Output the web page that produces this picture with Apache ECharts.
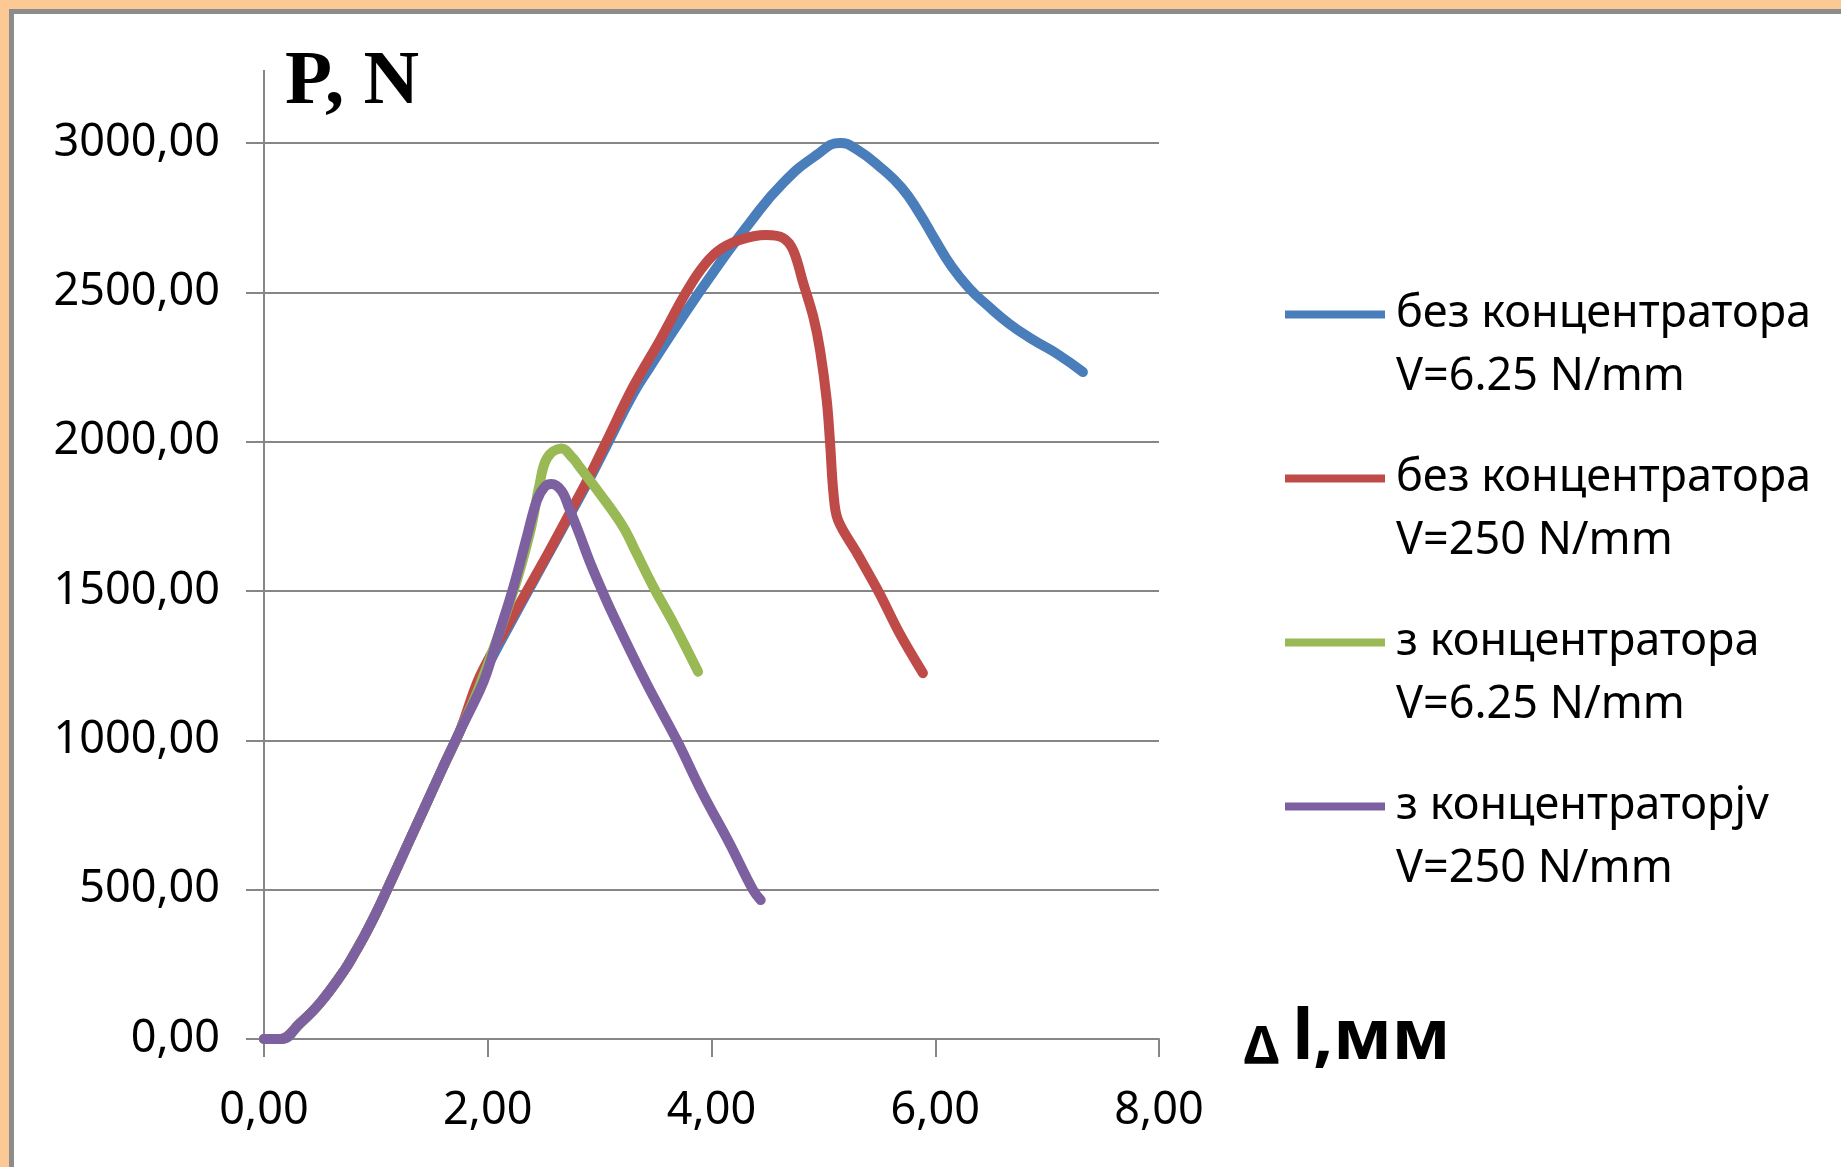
<!DOCTYPE html>
<html>
<head>
<meta charset="utf-8">
<title>P, N</title>
<script src="https://cdn.jsdelivr.net/npm/echarts@6/dist/echarts.min.js"></script>
<style>
  html, body { margin: 0; padding: 0; background: #fff; }
  #wrap { position: relative; width: 1841px; height: 1167px; overflow: hidden; background: #fff; }
  #chart { position: absolute; left: 0; top: 0; width: 1841px; height: 1167px; }
  .band { position: absolute; pointer-events: none; }
</style>
</head>
<body>
<div id="wrap">
  <div id="chart"></div>
  <div class="band" style="left:0;top:0;width:1841px;height:9px;background:#fcc995"></div>
  <div class="band" style="left:0;top:0;width:9px;height:1167px;background:#fcc995"></div>
  <div class="band" style="left:9px;top:9px;width:1832px;height:5px;background:#8c8c8c"></div>
  <div class="band" style="left:9px;top:9px;width:5px;height:1158px;background:#8c8c8c"></div>
</div>
<script>
// legend names, one per curve
var names = [
  'без концентратора\nV=6.25 N/mm',
  'без концентратора\nV=250 N/mm',
  'з концентратора\nV=6.25 N/mm',
  'з концентраторjv\nV=250 N/mm'
]
var colors = ['#4a7ebb', '#be4b48', '#98b954', '#7d60a0']
var smoothness = [0.5, 0.35, 0.4, 0.4]

var xTicks = [0, 2, 4, 6, 8]
var yTicks = [0, 500, 1000, 1500, 2000, 2500, 3000]

// [Δl, mm ; P, N]
var bez625 = [
  [0, 0], [0.15, 0], [0.32, 52], [0.50, 120], [0.72, 231], [0.81, 287], [0.90, 347],
  [1.00, 420], [1.10, 500], [1.28, 648], [1.42, 762], [1.60, 910], [1.75, 1030],
  [1.93, 1195], [2.23, 1410], [2.53, 1615], [2.71, 1738], [2.91, 1875], [3.06, 1985],
  [3.30, 2160], [3.45, 2250], [3.74, 2417], [4.05, 2585], [4.34, 2732], [4.64, 2866],
  [4.94, 2960], [5.15, 3000], [5.30, 2978], [5.53, 2912], [5.70, 2850], [5.85, 2770],
  [6.00, 2675], [6.14, 2590], [6.30, 2515], [6.47, 2455], [6.66, 2395], [6.87, 2342],
  [7.09, 2294], [7.32, 2233]
]
var bez250 = [
  [0, 0], [0.15, 0], [0.32, 52], [0.50, 120], [0.72, 231], [0.81, 287], [0.90, 347],
  [1.00, 420], [1.10, 500], [1.28, 648], [1.42, 762], [1.60, 910], [1.75, 1030],
  [1.93, 1215], [2.23, 1420], [2.53, 1620], [2.71, 1745], [2.91, 1885], [3.06, 2000],
  [3.30, 2184], [3.54, 2340], [3.75, 2485], [3.90, 2574], [4.05, 2636], [4.25, 2675],
  [4.49, 2692], [4.64, 2682], [4.73, 2641], [4.82, 2531], [4.91, 2418], [4.97, 2307],
  [5.03, 2139], [5.06, 1995], [5.09, 1828], [5.13, 1738], [5.30, 1627], [5.50, 1493],
  [5.68, 1359], [5.89, 1225]
]
var z625 = [
  [0, 0], [0.15, 0], [0.32, 52], [0.50, 120], [0.72, 231], [0.81, 287], [0.90, 347],
  [1.00, 420], [1.10, 500], [1.28, 648], [1.42, 762], [1.60, 910], [1.75, 1030],
  [1.93, 1185], [2.23, 1500], [2.38, 1700], [2.46, 1850], [2.53, 1945], [2.66, 1977],
  [2.76, 1945], [2.82, 1916], [3.00, 1827], [3.21, 1715], [3.33, 1626], [3.48, 1514],
  [3.66, 1392], [3.88, 1230]
]
var z250 = [
  [0, 0], [0.15, 0], [0.32, 52], [0.50, 120], [0.72, 231], [0.81, 287], [0.90, 347],
  [1.00, 420], [1.10, 500], [1.28, 648], [1.42, 762], [1.60, 910], [1.75, 1030],
  [1.93, 1168], [1.99, 1224], [2.11, 1369], [2.23, 1514], [2.35, 1682], [2.44, 1804],
  [2.51, 1849], [2.57, 1858], [2.66, 1835], [2.73, 1775], [2.82, 1690], [2.91, 1600],
  [3.00, 1520], [3.12, 1420], [3.42, 1190], [3.69, 1000], [3.92, 823], [4.16, 656],
  [4.37, 500], [4.44, 465]
]
var curves = [bez625, bez250, z625, z250]

function comma(v) {
  return v.toFixed(2).replace('.', ',')
}

var chart = echarts.init(document.getElementById('chart'))

var option = {
  animation: false,
  backgroundColor: '#fff',
  color: colors,
  title: {
    text: 'P, N',
    left: 280,
    top: 40,
    textStyle: {
      fontFamily: 'Liberation Serif',
      fontWeight: 'bold',
      fontSize: 77,
      color: '#000',
    },
  },
  legend: {
    orient: 'vertical',
    left: 1285,
    top: 220,
    padding: 0,
    icon: 'rect',
    itemWidth: 100,
    itemHeight: 8,
    itemGap: -25,
    selectedMode: false,
    data: names,
    // a blank first line puts the marker level with the name line
    formatter: function (name) {
      return ' \n' + name
    },
    textStyle: {
      fontFamily: 'Noto Sans',
      fontSize: 45,
      lineHeight: 63,
      color: '#000',
      padding: [0, 0, 0, 6],
      backgroundColor: 'rgba(0,0,0,0)',
    },
  },
  grid: {
    left: 264,
    top: 143,
    width: 895,
    height: 896,
    containLabel: false,
    outerBoundsMode: 'none',
  },
  xAxis: {
    type: 'value',
    min: xTicks[0],
    max: xTicks[xTicks.length - 1],
    interval: 2,
    name: '{d|Δ }{l|l,мм}',
    nameLocation: 'end',
    nameGap: 85,
    nameTextStyle: {
      fontFamily: 'Noto Sans',
      fontWeight: 'bold',
      fontSize: 46,
      color: '#000',
      rich: {
        d: { fontFamily: 'Noto Sans', fontWeight: 'bold', fontSize: 52, color: '#000', verticalAlign: 'bottom' },
        l: { fontFamily: 'Noto Sans', fontWeight: 'bold', fontSize: 70, color: '#000' },
      },
    },
    axisLine: { show: true, onZero: false, lineStyle: { color: '#868686', width: 2 } },
    axisTick: { show: true, inside: false, length: 18, lineStyle: { color: '#868686', width: 2 } },
    axisLabel: {
      margin: 50,
      fontFamily: 'Noto Sans',
      fontSize: 45,
      color: '#000',
      formatter: comma,
    },
    splitLine: { show: false },
  },
  yAxis: {
    type: 'value',
    min: yTicks[0],
    max: yTicks[yTicks.length - 1],
    interval: 500,
    axisLine: { show: true, onZero: false, lineStyle: { color: '#868686', width: 2 } },
    axisTick: { show: true, inside: false, length: 18, lineStyle: { color: '#868686', width: 2 } },
    axisLabel: {
      margin: 44,
      fontFamily: 'Noto Sans',
      fontSize: 45,
      color: '#000',
      formatter: comma,
    },
    splitLine: { show: true, lineStyle: { color: '#868686', width: 2 } },
  },
  graphic: [
    {
      // the vertical axis line runs on above 3000 in the original
      type: 'line',
      shape: { x1: 264, y1: 70, x2: 264, y2: 143 },
      style: { stroke: '#868686', lineWidth: 2 },
    },
  ],
  series: curves.map(function (d, i) {
    return {
      name: names[i],
      type: 'line',
      data: d,
      smooth: smoothness[i],
      symbol: 'none',
      showSymbol: false,
      clip: false,
      emphasis: { disabled: true },
      lineStyle: { color: colors[i], width: 10, cap: 'round', join: 'round' },
      itemStyle: { color: colors[i] },
    }
  }),
}

chart.setOption(option)
</script>
</body>
</html>
